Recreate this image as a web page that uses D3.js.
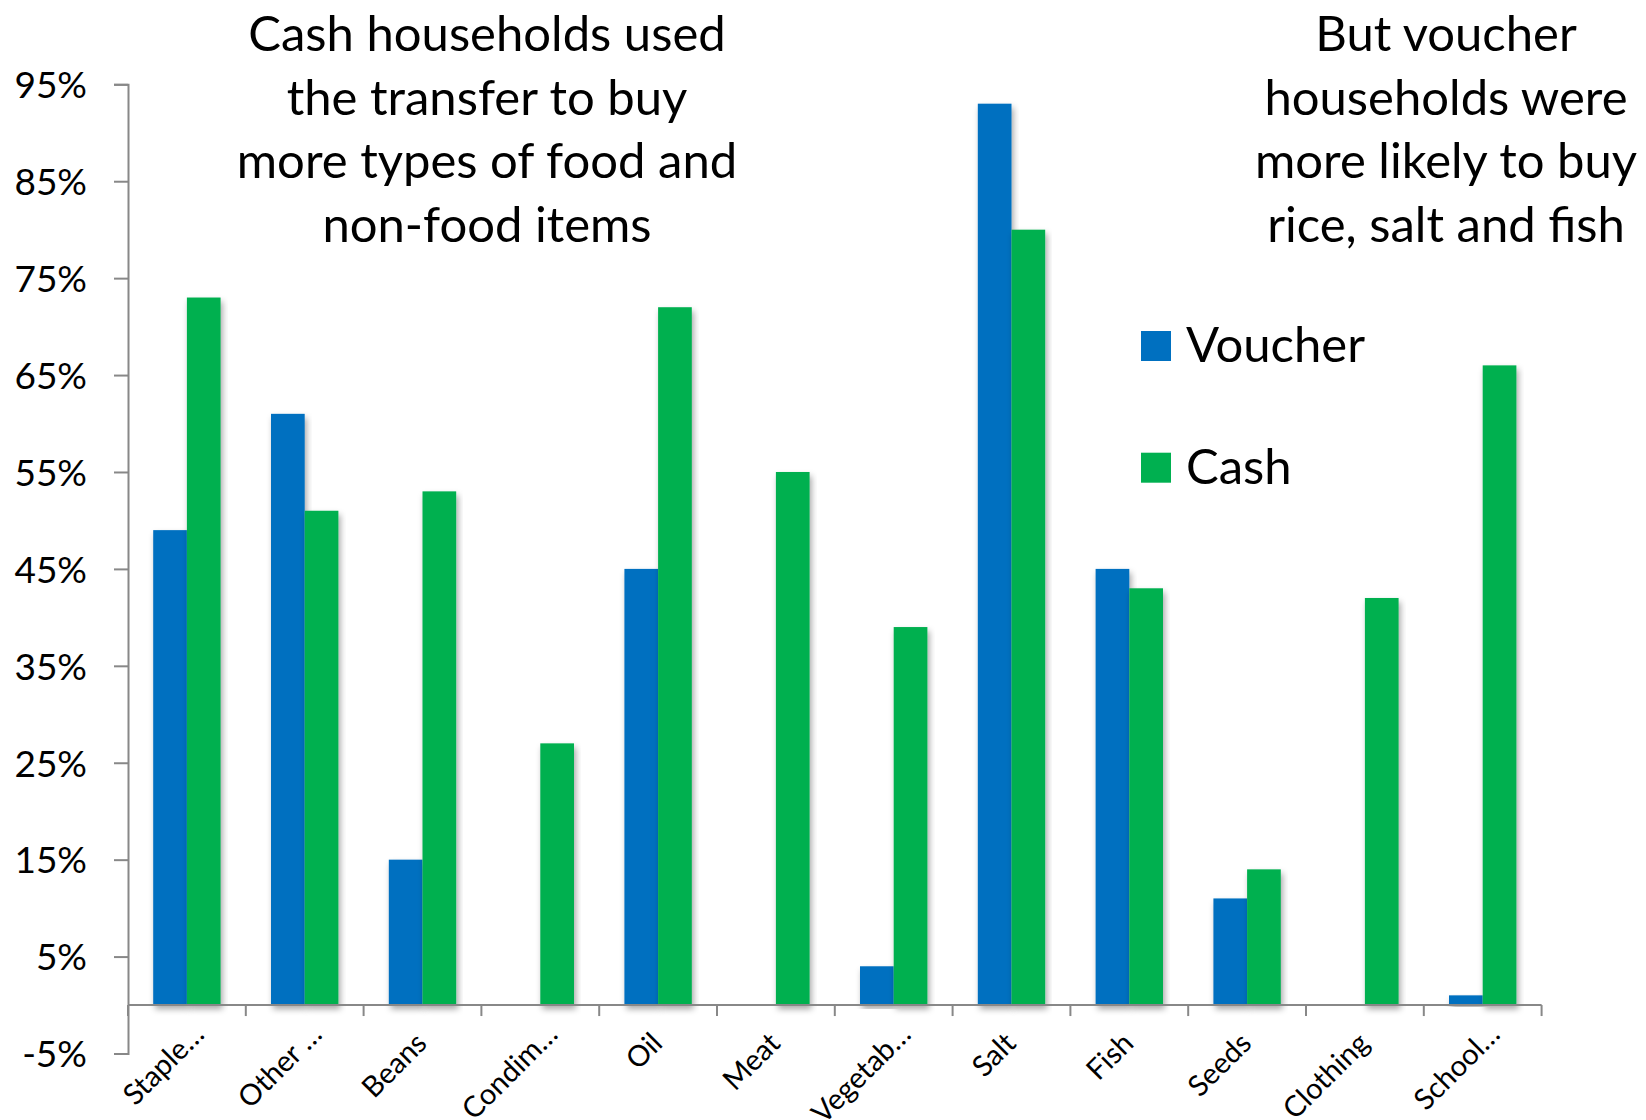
<!DOCTYPE html>
<html>
<head>
<meta charset="utf-8">
<script src="https://cdn.jsdelivr.net/npm/d3@7"></script>
<style>
  body { margin: 0; background: #fff; }
  text { font-family: Lato, "Open Sans", sans-serif; fill: #000; }
</style>
</head>
<body>
<div id="chart"></div>
<script>
// categories and values (percent of households)
let categories = ["Staple…", "Other …", "Beans", "Condim…", "Oil", "Meat",
                  "Vegetab…", "Salt", "Fish", "Seeds", "Clothing", "School…"];
let voucher = [49, 61, 15, 0, 45, 0, 4, 93, 45, 11, 0, 1];
let cash    = [73, 51, 53, 27, 72, 55, 39, 80, 43, 14, 42, 66];
let seriesNames = ["Voucher", "Cash"];
let seriesColors = ["#0070C0", "#00B050"];
let yTicks = [-5, 5, 15, 25, 35, 45, 55, 65, 75, 85, 95];

let leftNote = ["Cash households used", "the transfer to buy",
                "more types of food and", "non-food items"];
let rightNote = ["But voucher", "households were",
                 "more likely to buy", "rice, salt and fish"];

let W = 1646, H = 1120;
let svg = d3.select("#chart").append("svg")
  .attr("width", W).attr("height", H);

// soft shadow like the office chart
let defs = svg.append("defs");
defs.append("filter").attr("id", "shadow")
  .attr("x", "-20%").attr("y", "-5%").attr("width", "140%").attr("height", "115%")
  .append("feDropShadow")
  .attr("dx", 2).attr("dy", 4).attr("stdDeviation", 3)
  .attr("flood-color", "#000").attr("flood-opacity", 0.35);

let x0 = d3.scaleBand().domain(categories).range([128, 1541.6])
  .paddingInner(0.428).paddingOuter(0.214);
let x1 = d3.scaleBand().domain(seriesNames).range([0, x0.bandwidth()]);
let y = d3.scaleLinear().domain([-5, 95]).range([1053.5, 84.3]);

let axisColor = "#888888";

// y axis
let yAxis = svg.append("g")
  .attr("transform", "translate(128,0)")
  .call(d3.axisLeft(y).tickValues(yTicks).tickSize(14).tickPadding(27)
    .tickFormat(d => d + "%"));
yAxis.select(".domain").attr("stroke", axisColor).attr("stroke-width", 2);
yAxis.selectAll(".tick line").attr("stroke", axisColor).attr("stroke-width", 2);
yAxis.selectAll(".tick text")
  .style("font-family", "Lato, sans-serif").attr("font-size", 37)
  .attr("fill", "#000").attr("dy", "0.36em");

// bars
let rows = categories.map((c, i) => ({cat: c, vals: [voucher[i], cash[i]]}));
let groups = svg.selectAll("g.grp")
  .data(rows).enter().append("g")
  .attr("class", "grp")
  .attr("transform", d => "translate(" + x0(d.cat) + ",0)");

groups.selectAll("rect")
  .data(d => d.vals.map((v, j) => ({v: v, s: seriesNames[j], c: seriesColors[j]})))
  .enter().append("rect")
  .attr("x", d => x1(d.s))
  .attr("width", x1.bandwidth())
  .attr("y", d => y(Math.max(0, d.v)))
  .attr("height", d => Math.abs(y(d.v) - y(0)))
  .attr("fill", d => d.c)
  .attr("filter", d => d.v > 0 ? "url(#shadow)" : null);

// x axis at zero
let y0 = y(0);
let step = x0.step();
let xStart = x0.range()[0];
svg.append("line")
  .attr("x1", xStart).attr("x2", x0.range()[1])
  .attr("y1", y0).attr("y2", y0)
  .attr("stroke", axisColor).attr("stroke-width", 2);
svg.selectAll("line.xtick")
  .data(d3.range(categories.length + 1))
  .enter().append("line")
  .attr("class", "xtick")
  .attr("x1", i => xStart + i * step).attr("x2", i => xStart + i * step)
  .attr("y1", y0).attr("y2", y0 + 11)
  .attr("stroke", axisColor).attr("stroke-width", 2);

// truncated (wrapped) labels sit a little higher/right, like the original
svg.selectAll("text.xlab")
  .data(categories).enter().append("text")
  .attr("class", "xlab")
  .attr("text-anchor", "end")
  .attr("font-size", 29)
  .attr("transform", d => {
    let cut = d.endsWith("…");
    let cx = x0(d) + x0.bandwidth() / 2 + (cut ? 19 : 6);
    let cy = y0 + (cut ? 31 : 40);
    return "translate(" + cx + "," + cy + ") rotate(-45)";
  })
  .text(d => d);

// legend
let legend = svg.selectAll("g.leg")
  .data(seriesNames).enter().append("g")
  .attr("class", "leg")
  .attr("transform", (d, i) => "translate(1141," + (331 + i * 121.7) + ")");
legend.append("rect")
  .attr("width", 30).attr("height", 30)
  .attr("fill", (d, i) => seriesColors[i]);
legend.append("text")
  .attr("x", 45).attr("y", 31)
  .attr("font-size", 49)
  .text(d => d);

// annotation texts
function note(lines, cx) {
  svg.append("g").selectAll("text")
    .data(lines).enter().append("text")
    .attr("x", cx)
    .attr("y", (d, i) => 51 + i * 63.5)
    .attr("text-anchor", "middle")
    .attr("font-size", 49)
    .text(d => d);
}
note(leftNote, 487);
note(rightNote, 1446);
</script>
</body>
</html>
